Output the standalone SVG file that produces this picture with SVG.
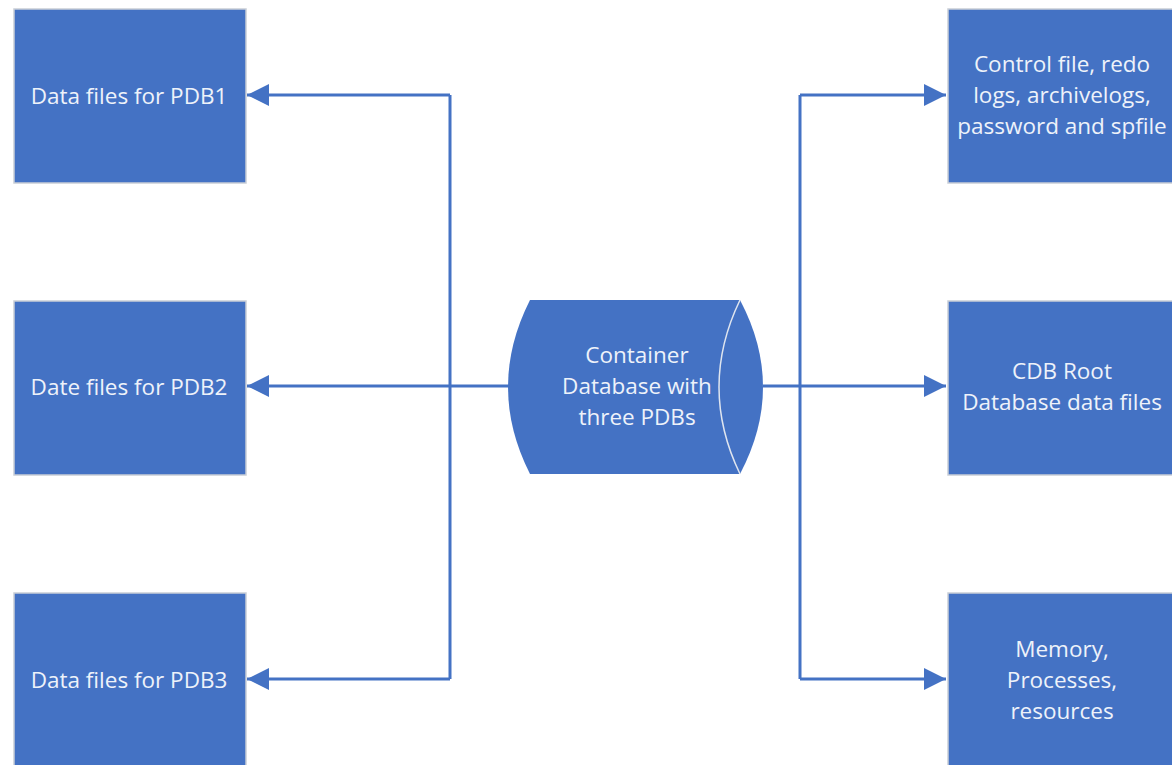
<svg xmlns="http://www.w3.org/2000/svg" width="1172" height="765" viewBox="0 0 1172 765">
<style>
.box{fill:#4472C4;stroke:#c9ced6;stroke-width:1.5}
.t{font-family:"Open Sans","Liberation Sans",sans-serif;font-size:22.5px;fill:#eef2fa;text-anchor:middle}
.ln{fill:none;stroke:#4472C4;stroke-width:3}
</style>
<defs>
<marker id="arr" viewBox="0 0 22 22" refX="22" refY="11" markerWidth="22" markerHeight="22" orient="auto" markerUnits="userSpaceOnUse">
<path d="M0,0 L22,11 L0,22 Z" fill="#4472C4"/>
</marker>
</defs>
<rect width="1172" height="765" fill="#ffffff"/>
<g id="connectors">
<path class="ln" d="M450,95 V679"/>
<path class="ln" d="M512,386 H450"/>
<path class="ln" d="M450,95 H247" marker-end="url(#arr)"/>
<path class="ln" d="M450,386 H247" marker-end="url(#arr)"/>
<path class="ln" d="M450,679 H247" marker-end="url(#arr)"/>
<path class="ln" d="M800,95 V679"/>
<path class="ln" d="M763,386 H800"/>
<path class="ln" d="M800,95 H946" marker-end="url(#arr)"/>
<path class="ln" d="M800,386 H946" marker-end="url(#arr)"/>
<path class="ln" d="M800,679 H946" marker-end="url(#arr)"/>
</g>
<g id="pdb1">
<rect class="box" x="14" y="9" width="232" height="174"/>
<text class="t" x="129" y="104">Data files for PDB1</text>
</g>
<g id="pdb2">
<rect class="box" x="14" y="301" width="232" height="174"/>
<text class="t" x="129" y="395">Date files for PDB2</text>
</g>
<g id="pdb3">
<rect class="box" x="14" y="593" width="232" height="180"/>
<text class="t" x="129" y="688">Data files for PDB3</text>
</g>
<g id="cdb">
<path d="M530,300 H740 Q786,387 740,474 H530 Q486,387 530,300 Z" fill="#4472C4"/>
<path d="M740,300 Q698,387 740,474" fill="none" stroke="#dfe5ef" stroke-width="1.5"/>
<text class="t" x="637" y="363">Container</text>
<text class="t" x="637" y="394">Database with</text>
<text class="t" x="637" y="425">three PDBs</text>
</g>
<g id="ctl">
<rect class="box" x="948" y="9" width="240" height="174"/>
<text class="t" x="1062" y="72">Control file, redo</text>
<text class="t" x="1062" y="103">logs, archivelogs,</text>
<text class="t" x="1062" y="134">password and spfile</text>
</g>
<g id="root">
<rect class="box" x="948" y="301" width="240" height="174"/>
<text class="t" x="1062" y="379">CDB Root</text>
<text class="t" x="1062" y="410">Database data files</text>
</g>
<g id="mem">
<rect class="box" x="948" y="593" width="240" height="180"/>
<text class="t" x="1062" y="657">Memory,</text>
<text class="t" x="1062" y="688">Processes,</text>
<text class="t" x="1062" y="719">resources</text>
</g>
</svg>
